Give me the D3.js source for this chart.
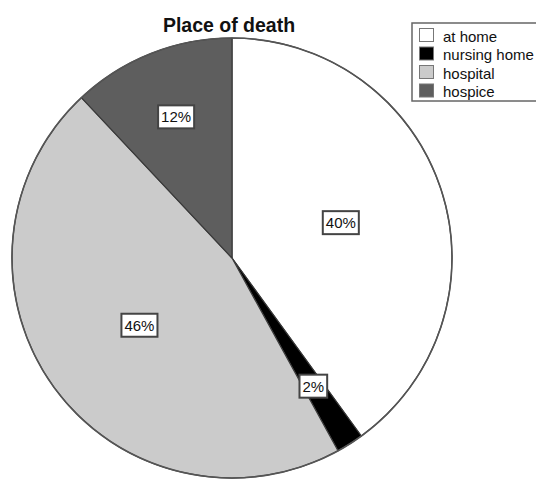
<!DOCTYPE html>
<html>
<head>
<meta charset="utf-8">
<script src="https://cdn.jsdelivr.net/npm/d3@7/dist/d3.min.js"></script>
<style>
  html, body { margin: 0; padding: 0; background: #ffffff; }
  svg { display: block; }
  text { font-family: "Liberation Sans", Arial, sans-serif; }
</style>
</head>
<body>
<svg id="chart" width="536" height="480"></svg>
<script>
// Place of death, share of cases
const categories = ["at home", "nursing home", "hospital", "hospice"];
const percents = [40, 2, 46, 12];
const fills = ["#ffffff", "#000000", "#cbcbcb", "#5e5e5e"];
const chartTitle = "Place of death";

const width = 536, height = 480;
const cx = 232, cy = 258, radius = 220;

const svg = d3.select("#chart");

const color = d3.scaleOrdinal().domain(categories).range(fills);

const rows = categories.map((c, i) => ({ name: c, value: percents[i] }));

const pie = d3.pie()
  .sort(null)
  .value(d => d.value)
  .startAngle(0)
  .endAngle(2 * Math.PI);

const arcs = pie(rows);

const arc = d3.arc().innerRadius(0).outerRadius(radius);

const g = svg.append("g").attr("transform", `translate(${cx},${cy})`);

g.selectAll("path.slice")
  .data(arcs)
  .join("path")
  .attr("class", "slice")
  .attr("d", arc)
  .attr("fill", d => color(d.data.name))
  .attr("stroke", "#3a3a3a")
  .attr("stroke-width", 1.2)
  .attr("stroke-linejoin", "round");

// outer rim
g.append("circle")
  .attr("r", radius)
  .attr("fill", "none")
  .attr("stroke", "#555555")
  .attr("stroke-width", 1.6);

// percentage labels in boxed tags; narrow slices get their tag further out
const bigLabelArc = d3.arc().innerRadius(radius * 0.52).outerRadius(radius * 0.52);
const smallLabelArc = d3.arc().innerRadius(radius * 0.69).outerRadius(radius * 0.69);

const labels = g.selectAll("g.label")
  .data(arcs)
  .join("g")
  .attr("class", "label")
  .attr("transform", d => {
    const a = d.data.value >= 20 ? bigLabelArc : smallLabelArc;
    const [x, y] = a.centroid(d);
    return `translate(${x},${y})`;
  });

labels.each(function(d) {
  const lg = d3.select(this);
  const t = lg.append("text")
    .attr("text-anchor", "middle")
    .attr("dy", "0.36em")
    .attr("font-size", 15)
    .attr("fill", "#111")
    .text(d.data.value + "%");
  const w = t.node().getComputedTextLength() + 6;
  const h = 23;
  lg.insert("rect", "text")
    .attr("x", -w / 2)
    .attr("y", -h / 2)
    .attr("width", w)
    .attr("height", h)
    .attr("fill", "#ffffff")
    .attr("stroke", "#444444")
    .attr("stroke-width", 2);
});

// title
svg.append("text")
  .attr("x", 229)
  .attr("y", 32)
  .attr("text-anchor", "middle")
  .attr("font-size", 19.5)
  .attr("font-weight", "bold")
  .attr("fill", "#111")
  .text(chartTitle);

// legend
const legend = svg.append("g").attr("transform", "translate(412,23)");
legend.append("rect")
  .attr("x", 0)
  .attr("y", 0)
  .attr("width", 130)
  .attr("height", 78)
  .attr("fill", "#ffffff")
  .attr("stroke", "#666666")
  .attr("stroke-width", 1.5);

const rowY = d3.scaleBand().domain(categories).range([3, 77]).paddingInner(0);

const items = legend.selectAll("g.item")
  .data(categories)
  .join("g")
  .attr("class", "item")
  .attr("transform", d => `translate(0,${rowY(d)})`);

items.append("rect")
  .attr("x", 7.5)
  .attr("y", 2.5)
  .attr("width", 14)
  .attr("height", 13)
  .attr("fill", d => color(d))
  .attr("stroke", "#777777")
  .attr("stroke-width", 1);

items.append("text")
  .attr("x", 31)
  .attr("y", rowY.bandwidth() / 2 + 1)
  .attr("dy", "0.36em")
  .attr("font-size", 15)
  .attr("fill", "#111")
  .text(d => d);
</script>
</body>
</html>
